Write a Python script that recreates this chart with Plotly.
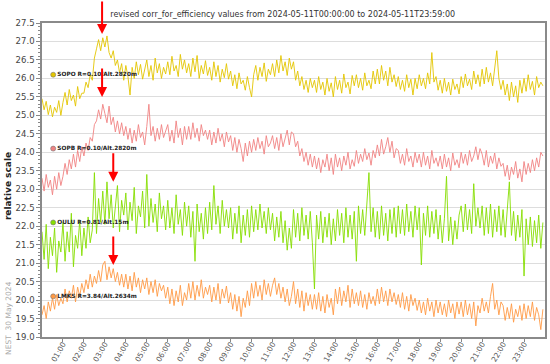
import pandas as pd
import plotly.graph_objects as go

# time axis: 6-minute steps through 2024-05-11
times = pd.date_range("2024-05-11 00:00", periods=240, freq="6min")

sopo = [
    25.45, 25.15, 25.38, 25.02, 25.28, 24.96, 25.22, 25.08, 25.40, 25.00,
    25.35, 25.62, 25.28, 25.70, 25.40, 25.55, 25.25, 25.78, 25.45, 25.60,
    25.60, 25.90, 25.75, 26.10, 25.95, 26.55, 26.80, 27.05, 26.75, 27.10,
    26.85, 27.15, 26.70, 26.55, 26.75, 26.35, 26.50, 26.15, 26.40, 25.95,
    26.35, 26.05, 25.55, 26.30, 26.00, 26.45, 26.10, 26.38, 25.98, 26.25,
    26.50, 26.05, 26.35, 25.95, 26.55, 26.15, 26.40, 26.00, 26.30, 26.12,
    26.45, 26.10, 26.60, 26.20, 26.35, 26.05, 26.65, 26.25, 26.50, 26.15,
    26.40, 26.05, 26.55, 26.18, 26.62, 26.00, 26.35, 26.12, 26.48, 26.08,
    26.30, 25.95, 26.45, 26.05, 26.35, 25.90, 26.25, 26.02, 26.40, 25.98,
    26.20, 25.80, 26.10, 25.72, 26.15, 25.85, 25.95, 25.68, 26.05, 25.75,
    25.50, 26.10, 26.35, 25.95, 26.30, 26.05, 26.42, 25.92, 26.25, 26.10,
    26.40, 26.05, 26.50, 26.15, 26.62, 26.20, 26.45, 26.08, 26.55, 26.25,
    26.45, 25.95, 26.20, 25.80, 26.05, 25.70, 25.95, 25.62, 26.00, 25.75,
    25.95, 25.62, 26.05, 25.70, 25.90, 25.55, 26.00, 25.65, 25.88, 25.50,
    26.05, 25.70, 25.95, 25.60, 26.12, 25.75, 25.90, 25.58, 26.08, 25.80,
    26.10, 25.75, 26.00, 25.68, 26.15, 25.80, 25.95, 25.72, 26.20, 25.85,
    26.25, 25.85, 26.35, 25.95, 26.20, 25.80, 26.30, 25.90, 26.10, 25.78,
    26.05, 25.70, 25.95, 25.65, 26.10, 25.75, 25.98, 25.55, 26.00, 25.72,
    26.10, 25.80, 26.00, 25.72, 26.15, 25.85, 26.70, 25.90, 26.05, 25.68,
    25.95, 25.60, 26.00, 25.65, 25.90, 25.55, 25.98, 25.70, 25.85, 25.58,
    26.05, 25.75, 26.12, 25.80, 25.98, 25.70, 26.20, 25.85, 26.10, 25.78,
    26.25, 25.85, 26.30, 25.90, 26.15, 25.80, 26.35, 26.75, 26.00, 25.70,
    25.95, 25.55, 25.85, 25.40, 25.90, 25.50, 25.80, 25.35, 25.95, 25.60,
    26.00, 25.65, 26.10, 25.70, 25.92, 25.55, 26.05, 25.75, 25.90, 25.80,
]

sopb = [
    23.30, 22.95, 23.40, 23.05, 23.25, 22.85, 23.35, 23.00, 23.45, 23.10,
    23.35, 23.70, 23.40, 23.80, 23.55, 23.95, 23.60, 24.05, 23.75, 24.15,
    23.90, 24.25, 24.05, 24.40, 24.30, 24.75, 24.85, 25.15, 24.90, 25.30,
    25.05, 24.80, 25.25, 24.75, 24.95, 24.55, 24.85, 24.50, 24.80, 24.45,
    24.70, 24.35, 24.65, 24.25, 24.60, 24.30, 24.75, 24.40, 24.55, 24.20,
    24.70, 25.30, 24.45, 24.70, 24.30, 24.65, 24.35, 24.75, 24.40, 24.60,
    24.75, 24.30, 24.60, 24.25, 24.85, 24.40, 24.65, 24.20, 24.70, 24.35,
    24.70, 24.35, 24.80, 24.40, 24.65, 24.30, 24.75, 24.45, 24.60, 24.35,
    24.60, 24.20, 24.55, 24.25, 24.65, 24.30, 24.50, 24.15, 24.55, 24.28,
    24.45, 24.05, 24.40, 24.00, 24.35, 24.10, 23.75, 24.25, 23.90, 24.30,
    24.00, 24.35, 24.05, 24.40, 24.10, 24.30, 23.95, 24.45, 24.15, 24.25,
    24.45, 24.10, 24.40, 24.05, 24.50, 24.15, 24.35, 24.60, 24.20, 24.55,
    24.50, 24.15, 24.30, 23.90, 24.10, 23.75, 24.00, 23.65, 23.95, 23.60,
    23.90, 23.55, 23.85, 23.45, 23.80, 23.60, 23.95, 23.50, 23.85, 23.40,
    23.95, 23.60, 23.85, 23.50, 23.90, 23.65, 24.00, 23.55, 23.80, 23.62,
    24.05, 23.70, 23.95, 23.75, 24.10, 23.80, 23.98, 23.65, 24.05, 23.85,
    24.20, 23.90, 24.35, 23.95, 24.15, 24.40, 24.00, 24.30, 23.85, 24.10,
    24.05, 23.70, 23.95, 23.65, 24.10, 23.75, 23.90, 23.60, 24.00, 23.72,
    23.95, 23.60, 24.00, 23.65, 23.90, 23.55, 24.05, 23.70, 23.85, 23.62,
    23.90, 23.55, 23.95, 23.60, 23.85, 23.50, 23.98, 23.65, 23.80, 23.58,
    24.00, 23.70, 23.95, 23.65, 24.05, 23.75, 23.90, 24.15, 23.80, 24.10,
    23.95, 23.65, 24.05, 23.60, 23.90, 23.70, 23.98, 23.55, 23.85, 23.62,
    23.70, 23.35, 23.65, 23.25, 23.60, 23.40, 23.75, 23.30, 23.55, 23.20,
    23.75, 23.40, 23.70, 23.45, 23.80, 23.50, 23.85, 23.60, 24.00, 23.90,
]

oulu = [
    21.85, 21.10, 22.05, 20.85, 21.70, 21.20, 21.95, 20.75, 21.60, 21.30,
    22.10, 21.05, 21.85, 21.30, 22.35, 20.90, 21.75, 21.40, 22.15, 21.20,
    21.95, 21.40, 22.25, 21.55, 21.90, 23.45, 21.80, 22.75, 22.10, 22.95,
    22.05, 23.20, 22.20, 22.85, 21.95, 22.60, 23.10, 21.85, 22.70, 22.30,
    22.90, 21.90, 22.65, 22.15, 23.05, 21.80, 22.55, 22.25, 22.95, 21.95,
    23.40, 22.00, 22.75, 22.10, 22.60, 21.85, 22.90, 22.20, 22.55, 21.90,
    22.70, 21.95, 22.50, 21.80, 22.85, 22.05, 22.45, 21.75, 22.65, 22.00,
    22.55, 21.70, 22.40, 21.05, 22.60, 21.85, 22.35, 21.65, 22.50, 21.80,
    22.65, 21.90, 23.10, 22.05, 22.55, 21.80, 22.70, 22.00, 22.45, 21.95,
    22.50, 21.65, 22.35, 21.80, 22.55, 21.55, 22.30, 21.75, 22.45, 21.70,
    22.55, 21.85, 22.45, 21.90, 22.60, 21.95, 22.40, 21.80, 22.50, 21.90,
    22.35, 21.60, 22.25, 21.70, 22.40, 21.55, 22.15, 21.35, 21.95, 21.40,
    22.45, 21.70, 22.35, 21.60, 22.50, 21.75, 22.30, 21.65, 22.40, 21.55,
    20.30, 22.30, 21.65, 22.40, 21.55, 22.25, 21.70, 22.35, 21.50, 22.20,
    21.60, 22.45, 21.75, 22.35, 21.55, 22.50, 21.70, 22.30, 21.65, 22.40,
    21.05, 22.55, 21.80, 22.45, 21.75, 22.60, 23.45, 21.85, 22.50, 21.70,
    22.40, 21.65, 22.55, 21.75, 22.35, 21.60, 22.45, 21.80, 22.50, 21.70,
    22.55, 21.80, 22.45, 21.75, 22.60, 21.85, 22.40, 21.70, 22.55, 21.90,
    22.50, 20.95, 22.35, 21.75, 22.55, 21.70, 22.40, 21.80, 22.45, 21.65,
    22.30, 21.55, 22.20, 23.35, 21.60, 22.25, 21.50, 22.15, 21.65, 22.30,
    22.55, 21.85, 22.60, 21.90, 22.45, 21.80, 23.15, 22.00, 22.50, 21.95,
    22.55, 21.75, 22.50, 21.80, 22.60, 21.70, 22.45, 21.85, 22.55, 21.75,
    22.45, 21.70, 22.35, 23.20, 21.75, 22.40, 21.60, 22.30, 21.70, 22.45,
    20.65, 22.20, 21.50, 22.25, 21.45, 22.15, 21.55, 22.30, 21.40, 22.10,
]

lmks = [
    19.60, 19.85, 19.50, 19.95, 19.70, 20.05, 19.75, 20.15, 19.85, 20.05,
    19.90, 20.30, 19.95, 20.25, 20.05, 20.40, 19.95, 20.35, 20.10, 20.45,
    20.20, 20.55, 20.30, 20.70, 20.35, 20.65, 20.45, 20.80, 20.50, 20.95,
    21.05, 20.55, 20.90, 20.60, 20.85, 20.50, 20.75, 20.40, 20.70, 20.35,
    20.70, 20.30, 20.65, 20.25, 20.75, 20.35, 20.60, 20.20, 20.55, 20.30,
    20.60, 20.15, 20.50, 20.20, 20.55, 20.10, 20.45, 20.25, 20.40, 20.05,
    20.35, 19.90, 20.30, 19.85, 20.25, 19.95, 20.40, 19.85, 20.20, 20.00,
    20.45, 20.05, 20.50, 20.00, 20.40, 20.10, 20.55, 20.05, 20.35, 20.15,
    20.40, 19.95, 20.35, 20.00, 20.45, 19.90, 20.30, 20.05, 20.38, 19.92,
    20.20, 19.75, 20.15, 19.70, 20.10, 19.55, 20.05, 19.80, 20.25, 19.85,
    20.45, 20.05, 20.50, 20.10, 20.40, 20.00, 20.55, 20.15, 20.45, 20.10,
    20.40, 20.60, 20.15, 20.45, 20.05, 20.35, 19.95, 20.30, 19.85, 20.10,
    20.50, 19.90, 20.30, 19.80, 20.25, 19.70, 20.20, 19.85, 20.15, 19.75,
    20.15, 19.75, 20.20, 19.70, 20.10, 19.65, 20.15, 19.80, 20.05, 19.60,
    20.30, 19.90, 20.35, 19.85, 20.25, 19.95, 20.40, 19.80, 20.30, 19.90,
    20.20, 19.85, 20.25, 19.80, 20.15, 19.75, 20.20, 19.90, 20.10, 19.85,
    20.30, 19.90, 20.35, 19.95, 20.25, 19.85, 20.30, 19.95, 20.20, 19.88,
    20.15, 19.80, 20.20, 19.75, 20.10, 19.70, 20.15, 19.85, 20.05, 19.72,
    20.00, 19.65, 19.95, 19.60, 20.05, 19.70, 19.95, 19.55, 20.00, 19.65,
    19.95, 19.60, 19.90, 19.55, 20.00, 19.65, 19.90, 19.50, 19.95, 19.62,
    19.95, 19.55, 20.00, 19.60, 19.90, 19.50, 19.95, 19.30, 19.85, 19.65,
    20.05, 19.70, 19.95, 19.65, 20.10, 20.45, 19.75, 20.00, 19.60, 19.95,
    19.85, 19.45, 19.80, 19.50, 19.90, 19.40, 19.75, 19.55, 19.85, 19.45,
    19.90, 19.50, 19.85, 19.55, 19.95, 19.45, 19.80, 19.60, 19.20, 19.75,
]

station_names = ["SOPO", "SOPB", "OULU", "LMKS"]
station_labels = ["SOPO R=0.10/Alt.2820m", "SOPB R=0.10/Alt.2820m",
                  "OULU R=0.81/Alt.15m", "LMKS R=3.84/Alt.2634m"]
label_levels = [26.1, 24.1, 22.1, 20.1]
label_time = "2024-05-11 00:32"
colors = ["#e3c500", "#f08282", "#86de00", "#ff9a45"]

arrow_times = ["2024-05-11 02:52", "2024-05-11 02:52", "2024-05-11 03:24", "2024-05-11 03:24"]
arrow_tips = [27.2, 25.5, 23.2, 20.95]
arrow_len = [-36, -30, -30, -30]

hour_ticks = pd.date_range("2024-05-11 01:00", periods=23, freq="1h")
hour_text = [t.strftime("%H:%M") for t in hour_ticks]
y_ticks = [19.0 + 0.5 * i for i in range(18)]

FONT = "DejaVu Sans"
fig = go.Figure()
for name, vals, col in zip(station_names, [sopo, sopb, oulu, lmks], colors):
    fig.add_trace(go.Scatter(x=times, y=vals, mode="lines", name=name,
                             line=dict(color=col, width=0.9), hoverinfo="skip"))

for lab, lev, col in zip(station_labels, label_levels, colors):
    fig.add_trace(go.Scatter(x=[label_time], y=[lev], mode="markers+text",
                             text=["<b>" + lab + "</b>"], textposition="middle right",
                             textfont=dict(family=FONT, size=5.8, color="#222"),
                             marker=dict(size=5, color=col, line=dict(color="#777", width=0.6)),
                             showlegend=False, cliponaxis=False, hoverinfo="skip"))

for t, tip, L in zip(arrow_times, arrow_tips, arrow_len):
    fig.add_annotation(x=t, y=tip, xref="x", yref="y", text="", showarrow=True,
                       ax=0, ay=L, arrowcolor="#ff0000", arrowwidth=2,
                       arrowhead=2, arrowsize=1, standoff=0)

fig.add_annotation(text="<b>relative scale</b>", xref="paper", yref="paper",
                   x=-0.068, y=0.48, xanchor="center", yanchor="middle",
                   textangle=-90, showarrow=False,
                   font=dict(family=FONT, size=9, color="#222"))
fig.add_annotation(text="NEST  30 May 2024", xref="paper", yref="paper",
                   x=-0.068, y=0.06, xanchor="center", yanchor="middle",
                   textangle=-90, showarrow=False,
                   font=dict(family=FONT, size=7.5, color="#aaa"))

fig.update_layout(
    width=550, height=364,
    margin=dict(l=42, r=5, t=23, b=27),
    paper_bgcolor="white", plot_bgcolor="white",
    showlegend=False,
    title=dict(text="revised corr_for_efficiency values from 2024-05-11T00:00:00 to 2024-05-11T23:59:00",
               x=0.514, xanchor="center", y=0.962, yanchor="middle",
               font=dict(family=FONT, size=8, color="#333")),
    font=dict(family=FONT, size=8, color="#444"),
)
fig.update_xaxes(range=["2024-05-11 00:00", "2024-05-12 00:00"],
                 tickvals=hour_ticks, ticktext=hour_text, tickangle=-60,
                 ticks="outside", ticklen=3, tickcolor="#888",
                 ticklabelstandoff=-5,
                 showgrid=False, showline=True, linecolor="#8a8a8a", linewidth=1.5,
                 mirror=True, automargin=False, tickfont=dict(size=7.5, color="#555"),
                 zeroline=False)
fig.update_yaxes(range=[19.0, 27.5], tickvals=y_ticks,
                 ticktext=[f"{v:.1f}" for v in y_ticks],
                 ticks="outside", ticklen=4, tickcolor="#888",
                 minor=dict(dtick=0.1, ticks="outside", ticklen=2, tickcolor="#888", showgrid=False),
                 showgrid=True, gridcolor="#dddddd", gridwidth=1,
                 showline=True, linecolor="#8a8a8a", linewidth=1.5, mirror=True,
                 automargin=False, tickfont=dict(size=8.5, color="#444"), zeroline=False)

fig.write_html("out.html", config={"displayModeBar": False},
               post_script="document.body.style.margin='0';document.body.style.overflow='hidden';")
